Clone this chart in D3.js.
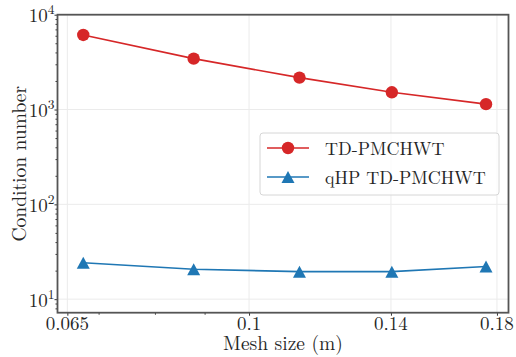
<!DOCTYPE html>
<html lang="en">

<head>
    <meta charset="utf-8">
    <title>Condition number vs mesh size</title>
    <script type="text/javascript" src="https://cdn.jsdelivr.net/npm/d3@7"></script>
    <style type="text/css">
        body {
            margin: 0;
            background: white;
        }
    </style>
</head>

<body>
    <script type="text/javascript">

        // data
        var meshSize = [0.0675, 0.0877, 0.1127, 0.1403, 0.1754];
        var condStandard = [6110, 3440, 2170, 1520, 1140];
        var condQhp = [24.2, 20.7, 19.5, 19.5, 22.1];

        var xTicks = [0.065, 0.1, 0.14, 0.18];
        var xTickLabels = ["0.065", "0.1", "0.14", "0.18"];
        var xMinorTicks = [0.07, 0.08, 0.09];
        var yTicks = [10, 100, 1000, 10000];
        var yTickExponents = ["1", "2", "3", "4"];
        var seriesNames = ["TD-PMCHWT", "qHP TD-PMCHWT"];

        var w = 516;
        var h = 357;
        var pLeft = 57.5, pRight = 508.5, pTop = 14.7, pBottom = 312.7;
        var serif = "'Latin Modern Roman', 'Liberation Serif', serif";
        var ink = "#262626";

        var svg = d3.select("body")
            .append("svg")
            .attr("width", w)
            .attr("height", h);

        var x = d3.scaleLog().domain([0.0635, 0.185]).range([pLeft, pRight]);
        var y = d3.scaleLog().domain([7.2, 10000]).range([pBottom, pTop]);

        var yMinor = [];
        [1, 10, 100, 1000].forEach(function (dec) {
            for (var k = 2; k <= 9; k++) {
                if (dec * k >= 7.2) yMinor.push(dec * k);
            }
        });

        // grid
        svg.append("g").selectAll("line")
            .data(xTicks)
            .enter()
            .append("line")
            .attr("x1", function (d) { return x(d); })
            .attr("x2", function (d) { return x(d); })
            .attr("y1", pTop)
            .attr("y2", pBottom)
            .attr("stroke", "#ebebeb")
            .attr("stroke-width", 1);

        svg.append("g").selectAll("line")
            .data(yTicks)
            .enter()
            .append("line")
            .attr("x1", pLeft)
            .attr("x2", pRight)
            .attr("y1", function (d) { return y(d); })
            .attr("y2", function (d) { return y(d); })
            .attr("stroke", "#ebebeb")
            .attr("stroke-width", 1);

        // axes (ticks only, labels drawn below)
        function tickAxis(axis, tr) {
            var g = svg.append("g").attr("transform", tr).call(axis);
            g.select(".domain").remove();
            g.selectAll("line").attr("stroke", "#333");
            g.selectAll("text").remove();
            return g;
        }
        tickAxis(d3.axisBottom(x).tickValues(xTicks).tickSize(3), "translate(0," + pBottom + ")");
        tickAxis(d3.axisBottom(x).tickValues(xMinorTicks).tickSize(2), "translate(0," + pBottom + ")");
        tickAxis(d3.axisLeft(y).tickValues(yTicks).tickSize(3), "translate(" + pLeft + ",0)");
        tickAxis(d3.axisLeft(y).tickValues(yMinor).tickSize(2), "translate(" + pLeft + ",0)");

        svg.append("g").selectAll("text")
            .data(xTicks)
            .enter()
            .append("text")
            .attr("x", function (d) { return x(d); })
            .attr("y", 330)
            .attr("text-anchor", "middle")
            .style("font-family", serif)
            .style("font-size", "19px")
            .attr("fill", ink)
            .text(function (d, i) { return xTickLabels[i]; });

        // y tick labels as 10^n
        var yLab = svg.append("g").selectAll("text")
            .data(yTicks)
            .enter()
            .append("text")
            .attr("x", pLeft - 3)
            .attr("y", function (d) { return y(d) + 7.5; })
            .attr("text-anchor", "end")
            .style("font-family", serif)
            .style("font-size", "19px")
            .attr("fill", ink);
        yLab.append("tspan").text("10");
        yLab.append("tspan")
            .attr("dy", -8)
            .style("font-size", "13.5px")
            .text(function (d, i) { return yTickExponents[i]; });

        // spines
        svg.append("rect")
            .attr("x", pLeft)
            .attr("y", pTop)
            .attr("width", pRight - pLeft)
            .attr("height", pBottom - pTop)
            .attr("fill", "none")
            .attr("stroke", "#555")
            .attr("stroke-width", 1.8);

        // lines
        var line = d3.line()
            .x(function (d) { return x(d[0]); })
            .y(function (d) { return y(d[1]); });

        var red = "#d62728", blue = "#1f77b4";

        svg.append("path")
            .datum(d3.zip(meshSize, condStandard))
            .attr("d", line)
            .attr("fill", "none")
            .attr("stroke", red)
            .attr("stroke-width", 1.6);

        svg.append("path")
            .datum(d3.zip(meshSize, condQhp))
            .attr("d", line)
            .attr("fill", "none")
            .attr("stroke", blue)
            .attr("stroke-width", 1.6);

        var tri = "M0,-6L6.5,6L-6.5,6Z";

        svg.append("g").selectAll("circle")
            .data(d3.zip(meshSize, condStandard))
            .enter()
            .append("circle")
            .attr("cx", function (d) { return x(d[0]); })
            .attr("cy", function (d) { return y(d[1]); })
            .attr("r", 6.2)
            .attr("fill", red);

        svg.append("g").selectAll("path")
            .data(d3.zip(meshSize, condQhp))
            .enter()
            .append("path")
            .attr("d", tri)
            .attr("transform", function (d) {
                return "translate(" + x(d[0]) + "," + y(d[1]) + ")";
            })
            .attr("fill", blue);

        // axis titles
        svg.append("text")
            .attr("x", (pLeft + pRight) / 2)
            .attr("y", 350)
            .attr("text-anchor", "middle")
            .style("font-family", serif)
            .style("font-size", "19.5px")
            .attr("fill", ink)
            .text("Mesh size (m)");

        svg.append("text")
            .attr("transform", "translate(26," + (pTop + pBottom) / 2 + ") rotate(-90)")
            .attr("text-anchor", "middle")
            .style("font-family", serif)
            .style("font-size", "19.5px")
            .attr("fill", ink)
            .text("Condition number");

        // legend
        var lg = svg.append("g");
        lg.append("rect")
            .attr("x", 260)
            .attr("y", 133)
            .attr("width", 239)
            .attr("height", 62)
            .attr("rx", 3)
            .attr("fill", "white")
            .attr("fill-opacity", 0.8)
            .attr("stroke", "#d6d6d6")
            .attr("stroke-width", 1);

        var colors = [red, blue];
        var rowsY = [148, 177];
        seriesNames.forEach(function (name, i) {
            lg.append("line")
                .attr("x1", 267)
                .attr("x2", 309)
                .attr("y1", rowsY[i])
                .attr("y2", rowsY[i])
                .attr("stroke", colors[i])
                .attr("stroke-width", 1.6);
            if (i === 0) {
                lg.append("circle")
                    .attr("cx", 288)
                    .attr("cy", rowsY[i])
                    .attr("r", 6.2)
                    .attr("fill", red);
            } else {
                lg.append("path")
                    .attr("d", tri)
                    .attr("transform", "translate(288," + rowsY[i] + ")")
                    .attr("fill", blue);
            }
            lg.append("text")
                .attr("x", 325)
                .attr("y", rowsY[i] + 7)
                .style("font-family", serif)
                .style("font-size", "18px")
                .attr("fill", ink)
                .text(name);
        });

    </script>
</body>


</html>
